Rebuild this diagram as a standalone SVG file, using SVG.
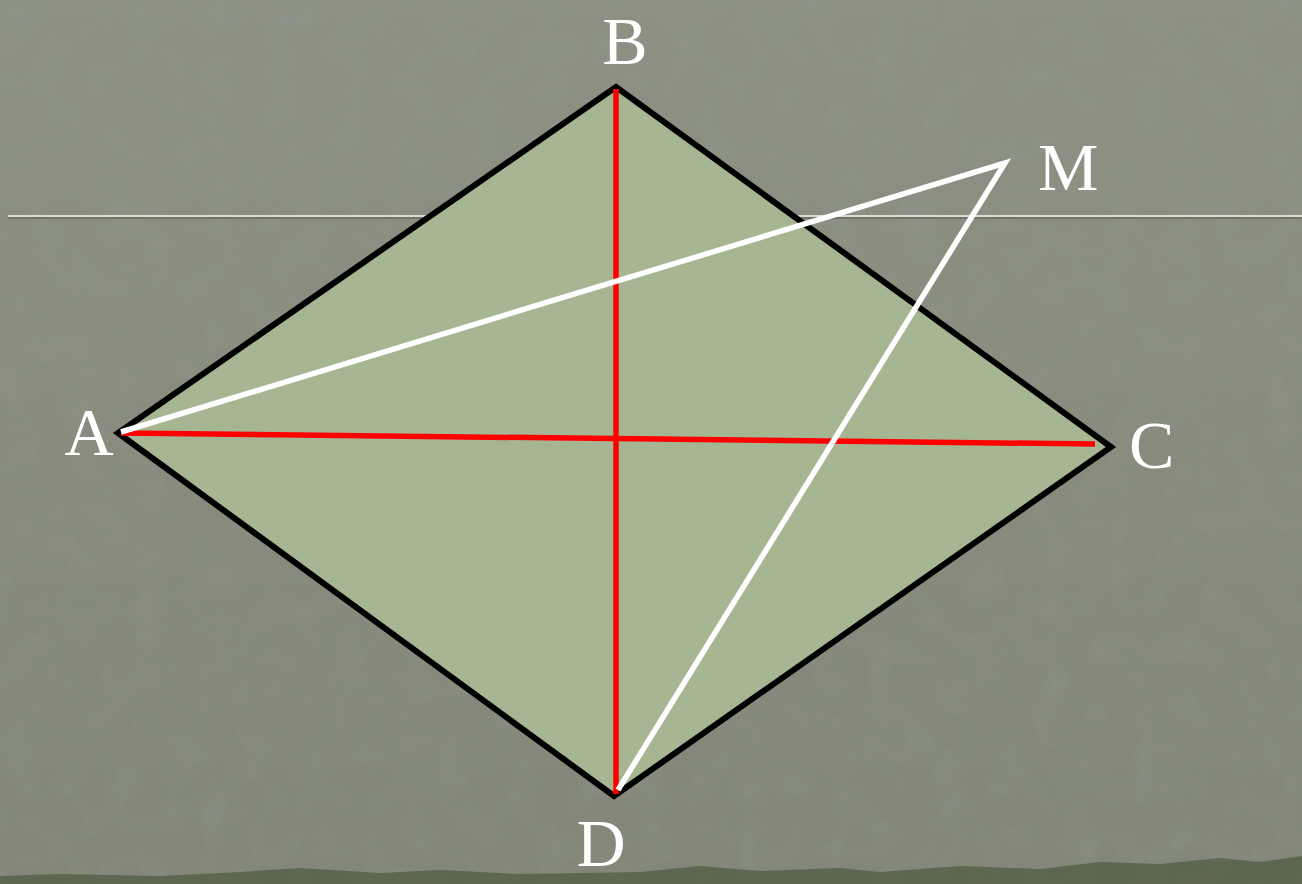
<svg xmlns="http://www.w3.org/2000/svg" width="1302" height="884" viewBox="0 0 1302 884">
<defs>
<linearGradient id="bg" x1="0" y1="0" x2="0" y2="1">
<stop offset="0" stop-color="#8c9184"/>
<stop offset="0.5" stop-color="#878c7e"/>
<stop offset="1" stop-color="#82877a"/>
</linearGradient>
<filter id="tex" x="0" y="0" width="1" height="1">
<feTurbulence type="fractalNoise" baseFrequency="0.03" numOctaves="4" seed="4" result="n"/>
<feColorMatrix type="matrix" values="0 0 0 0 0.35  0 0 0 0 0.37  0 0 0 0 0.32  0 0 0 -1.6 0.9" in="n"/>
<feComposite operator="in" in2="SourceGraphic"/>
</filter>
</defs>
<style>
.lbl{font-family:"Liberation Serif",Tinos,"Times New Roman",serif;font-size:68px;fill:#ffffff;}
.edge{fill:none;stroke-width:5.5;stroke-linecap:butt;}
</style>
<rect x="0" y="0" width="1302" height="884" fill="url(#bg)"/>
<rect x="0" y="0" width="1302" height="884" fill="#000" filter="url(#tex)" opacity="0.25"/>
<path d="M0 884 L0 876 L60 874 L160 876 L240 872 L300 868 L380 873 L440 870 L520 874 L640 872 L700 866 L760 871 L840 868 L880 872 L960 866 L1040 869 L1100 862 L1160 864 L1220 858 L1260 862 L1302 856 L1302 884 Z" fill="#56614a" opacity="0.85"/>
<line x1="8" y1="218" x2="1302" y2="218" stroke="#6f7467" stroke-width="2"/>
<line x1="8" y1="216" x2="1302" y2="216" stroke="#dcdcd4" stroke-width="2"/>
<g id="rhombus">
<polygon points="616,87 1111,447 614,796 118,433" fill="#a6b592" stroke="#000" stroke-width="6" stroke-linejoin="miter"/>
</g>
<g id="connectors">
<line class="edge" x1="616" y1="89" x2="616" y2="794" stroke="#ff0000"/>
<line class="edge" x1="121" y1="433" x2="1095" y2="444" stroke="#ff0000"/>
<polyline class="edge" points="121,432 1005,163 618,790" stroke="#ffffff" stroke-linejoin="miter" stroke-width="5"/>
</g>
<g id="labels">
<text class="lbl" x="625" y="64" text-anchor="middle">B</text>
<text class="lbl" x="1038" y="190">M</text>
<text class="lbl" x="89" y="455" text-anchor="middle">A</text>
<text class="lbl" x="1129" y="468">C</text>
<text class="lbl" x="601" y="866" text-anchor="middle">D</text>
</g>
</svg>
